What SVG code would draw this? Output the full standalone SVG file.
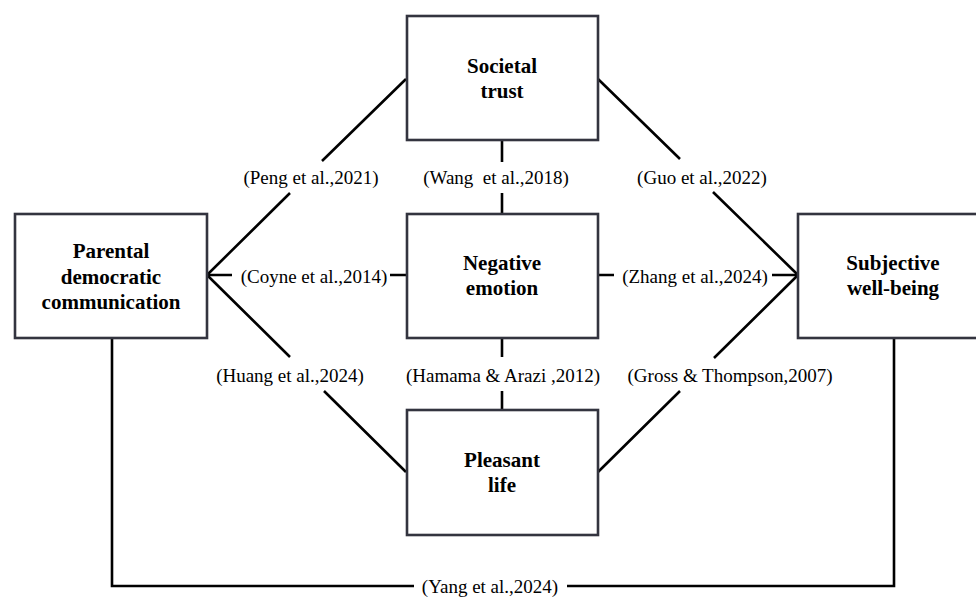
<svg xmlns="http://www.w3.org/2000/svg" width="976" height="598" viewBox="0 0 976 598">
<style>
.box{fill:#fff;stroke:#33343f;stroke-width:2.6}
.ln{stroke:#000;stroke-width:2.6;fill:none}
.t{font-weight:bold;font-size:21px;fill:#000;text-anchor:middle}
.l{font-size:19px;fill:#000;text-anchor:middle}
</style>
<rect width="976" height="598" fill="#fff"/>
<g font-family="'Liberation Serif', 'Times New Roman', Times, 'DejaVu Serif', serif">
<g id="connectors">
<path class="ln" d="M207,275 L290,193 M322,161 L406,79"/>
<path class="ln" d="M207,275 L290,357 M324,391 L406,472"/>
<path class="ln" d="M598,79 L680,159 M713,192 L798,275"/>
<path class="ln" d="M598,472 L680,391 M714,358 L798,275"/>
<path class="ln" d="M207,275 L232,275 M390,275 L406,275"/>
<path class="ln" d="M598,275 L614,275 M772,275 L798,275"/>
<path class="ln" d="M502,140 L502,162 M502,193 L502,213"/>
<path class="ln" d="M502,338 L502,357 M502,391 L502,410"/>
<path class="ln" d="M112,338 L112,586 L414,586 M567,586 L894,586 L894,338"/>
<text class="l" x="311" y="184">(Peng et al.,2021)</text>
<text class="l" x="496" y="184" xml:space="preserve">(Wang  et al.,2018)</text>
<text class="l" x="702" y="184">(Guo et al.,2022)</text>
<text class="l" x="314" y="283">(Coyne et al.,2014)</text>
<text class="l" x="695" y="283">(Zhang et al.,2024)</text>
<text class="l" x="290" y="382">(Huang et al.,2024)</text>
<text class="l" x="503" y="382">(Hamama &amp; Arazi ,2012)</text>
<text class="l" x="730" y="382">(Gross &amp; Thompson,2007)</text>
<text class="l" x="490" y="593">(Yang et al.,2024)</text>
</g>
<g id="societal-trust">
<rect class="box" x="407" y="16" width="191" height="124"/>
<text class="t" x="502" y="73">Societal</text>
<text class="t" x="502" y="98">trust</text>
</g>
<g id="parental">
<rect class="box" x="15" y="214" width="192" height="124"/>
<text class="t" x="111" y="258">Parental</text>
<text class="t" x="111" y="284">democratic</text>
<text class="t" x="111" y="309">communication</text>
</g>
<g id="negative-emotion">
<rect class="box" x="407" y="214" width="191" height="124"/>
<text class="t" x="502" y="270">Negative</text>
<text class="t" x="502" y="295">emotion</text>
</g>
<g id="pleasant-life">
<rect class="box" x="407" y="410" width="191" height="125"/>
<text class="t" x="502" y="467">Pleasant</text>
<text class="t" x="502" y="492">life</text>
</g>
<g id="subjective-well-being">
<rect class="box" x="798" y="214" width="190" height="124"/>
<text class="t" x="893" y="270">Subjective</text>
<text class="t" x="893" y="295">well-being</text>
</g>
</g>
</svg>
